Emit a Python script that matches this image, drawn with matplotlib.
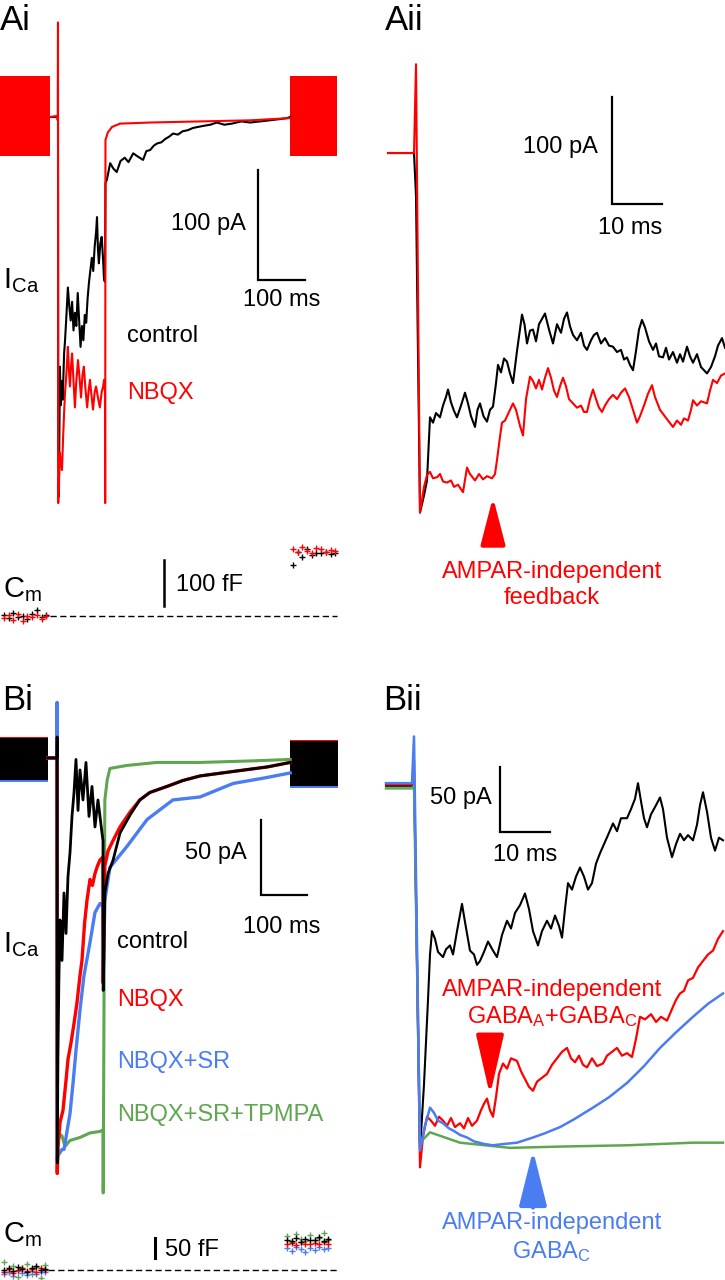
import matplotlib
matplotlib.use('Agg')
import matplotlib.pyplot as plt

plt.rcParams['font.family'] = ['Liberation Sans', 'DejaVu Sans']
plt.rcParams['mathtext.fontset'] = 'custom'
plt.rcParams['mathtext.rm'] = 'Liberation Sans'
plt.rcParams['mathtext.it'] = 'Liberation Sans:italic'

W, H = 725, 1280
RED = '#ff0000'
BLUE = '#4a7cf2'
GREEN = '#5ea64f'

# ---------------- data (time in ms, current in pA, capacitance in fF) -------
# Ai: full traces
ai_sine_t = [[-123, -17], [494, 594]]
ai_sine_hi = 37
ai_sine_lo = -35

ai_ctrl_t = [-17, 0, 0.5, 2, 4, 6, 8, 10, 13, 15, 18, 21, 24, 27, 30, 33, 36, 39, 42, 45, 48,
             51, 54, 57, 60, 63, 66, 69, 72, 75, 78, 81, 83, 85, 87, 90, 93, 96, 98, 100, 101,
             104, 111, 118, 125, 133, 142, 150, 160, 170, 181, 188, 196, 204, 211, 220, 228, 236,
             245, 255, 265, 276, 287, 298, 310, 324, 338, 354, 370, 390, 409, 430, 450, 470, 487,
             494]
ai_ctrl_i = [0, 0, -300, -345, -227, -262, -240, -257, -215, -203, -180, -155, -172, -185, -168,
             -194, -178, -190, -160, -185, -209, -190, -203, -180, -187, -165, -150, -139, -128,
             -140, -118, -105, -91, -120, -133, -115, -109, -130, -148, -150, -60, -57, -42, -47,
             -50, -40, -37, -41, -33, -36, -39, -31, -30, -26, -24, -23, -20, -18, -15, -16, -13,
             -12, -10, -9, -8, -7, -5, -7, -6, -4, -5, -4, -3, -2, -1, 0]

ai_nbqx_t = [-17, -2, -0.5, 0, 0.5, 2, 4, 6, 8.5, 11, 13, 15, 17, 19, 21, 23, 25.5, 28, 30, 33,
             36, 39, 42.6, 46, 49, 52, 55, 58, 62, 65, 68, 71, 74.5, 78, 81, 85, 89, 93, 96, 98,
             100, 100.4, 101, 106, 115, 132, 196, 302, 409, 494]
ai_nbqx_i = [0, 1, -3, 86, -351, -330, -305, -315, -321, -290, -269, -250, -239, -225, -209, -228,
             -245, -225, -215, -240, -264, -240, -221, -238, -255, -235, -227, -245, -264, -250,
             -239, -252, -266, -250, -245, -255, -264, -250, -245, -239, -250, -351, -21, -14, -9,
             -6, -5, -4, -3, -1]

cm_t_left = [-115, -105, -95, -85, -75, -65, -55, -45, -35, -25]
cm_t_right = [500, 510, 520, 530, 540, 550, 560, 570, 580, 590]
ai_cm_ctrl_left = [3, -4, 6, -2, 1, -6, 4, 12, -3, 2]
ai_cm_nbqx_left = [-5, 2, -8, 4, -10, 0, -3, 3, -6, 1]
ai_cm_ctrl_right = [110, 140, 128, 145, 132, 138, 136, 140, 135, 138]
ai_cm_nbqx_right = [145, 140, 150, 142, 138, 148, 146, 140, 144, 142]

# Aii: first 60 ms of the step
aii_ctrl_t = [-5.6, -0.4, 0, 0.8, 1.6, 2.2, 2.8, 3.4, 4.0, 4.8, 5.4, 6.0, 6.4, 7.0, 7.6, 8.2, 9.0,
              9.8, 10.4, 11.0, 11.8, 12.3, 12.8, 13.5, 14.2, 14.8, 15.4, 16.0, 16.4, 17.0, 17.6,
              18.2, 18.8, 19.4, 20.2, 21.2, 21.7, 22.2, 22.8, 23.4, 24.0, 24.6, 25.2, 25.8, 26.6,
              27.4, 28.2, 29.0, 29.6, 30.2, 30.8, 31.4, 32.2, 33.0, 33.6, 34.2, 35.0, 35.6, 36.2,
              37.0, 37.8, 38.6, 39.4, 40.2, 41.0, 41.6, 42.2, 42.8, 43.4, 44.0, 44.6, 45.2, 45.8,
              46.6, 47.4, 48.0, 48.6, 49.4, 50.0, 50.6, 51.4, 52.2, 52.8, 53.4, 54.2, 54.8, 55.4,
              56.2, 57.0, 57.6, 58.2, 59.0, 59.8, 60.4, 61.2, 61.8]
aii_ctrl_i = [0, 0, -40, -336, -320, -306, -247, -252, -243, -247, -236, -228, -221, -233, -241,
              -247, -236, -224, -234, -246, -256, -240, -234, -246, -251, -240, -237, -215, -198,
              -205, -192, -195, -206, -215, -185, -151, -160, -178, -166, -165, -176, -160, -155,
              -150, -165, -178, -160, -168, -155, -149, -162, -170, -175, -168, -180, -184, -175,
              -170, -168, -178, -173, -180, -181, -186, -184, -193, -191, -198, -203, -185, -165,
              -156, -163, -176, -184, -178, -190, -191, -182, -193, -186, -196, -188, -195, -181,
              -190, -196, -188, -200, -203, -206, -200, -190, -180, -173, -182]
aii_nbqx_t = [-5.6, -0.4, 0, 0.8, 1.6, 2.2, 2.8, 3.4, 4.2, 4.8, 5.4, 6.2, 7.0, 7.6, 8.4, 9.4, 10.2,
              10.8, 11.8, 12.6, 13.4, 14.2, 15.2, 15.8, 16.2, 16.8, 17.2, 17.8, 18.6, 19.4, 20.0,
              20.8, 21.4, 22.0, 22.8, 23.4, 24.0, 24.6, 25.2, 25.8, 26.4, 27.0, 27.6, 28.2, 28.8,
              29.4, 30.0, 30.6, 31.4, 32.2, 33.0, 33.6, 34.2, 34.8, 35.4, 36.0, 36.6, 37.2, 37.8,
              38.6, 39.4, 40.2, 41.0, 41.8, 42.6, 43.4, 44.2, 44.8, 45.6, 46.4, 47.2, 47.8, 48.8,
              49.6, 50.4, 51.4, 52.2, 53.0, 53.6, 54.4, 55.0, 55.4, 56.2, 57.0, 58.2, 58.8, 59.4,
              60.2, 61.0, 61.8]
aii_nbqx_i = [0, 0, 83, -336, -312, -301, -298, -304, -303, -300, -307, -308, -306, -312, -310,
              -317, -294, -300, -306, -300, -305, -302, -304, -300, -287, -265, -252, -250, -242,
              -234, -240, -255, -264, -230, -209, -213, -220, -212, -221, -210, -201, -210, -222,
              -228, -218, -210, -218, -230, -234, -238, -236, -242, -242, -230, -221, -230, -238,
              -242, -236, -230, -226, -230, -224, -220, -228, -240, -252, -246, -236, -225, -217,
              -228, -240, -245, -250, -256, -250, -254, -248, -250, -240, -231, -236, -232, -234,
              -222, -212, -215, -208, -206]

# Bi: full traces
bi_sine_t = [[-124, -20], [507, 611]]
bi_sine_red = [(14, -15), (12, -19)]
bi_sine_blue = [(13, -16), (11, -20)]
bi_sine_black = [(13, -15), (11, -19)]

bi_ctrl_t = [-20, 0, 0.3, 0.6, 2, 4, 6.5, 10.9, 15.2, 19.6, 23.9, 28.3, 32.6, 37.0, 41.3, 45.7,
             50.0, 56.5, 63.0, 69.6, 76.1, 82.6, 89.1, 97.8, 100, 100.5, 104, 111, 122, 137, 159,
             180, 202, 239, 274, 311, 383, 457, 507]
bi_ctrl_i = [0, 0, 14, -270, -200, -150, -108, -135, -90, -117, -79, -63, -39, -23, -1, -35, -8,
             -28, -3, -39, -19, -46, -28, -50, -55, -155, -90, -77, -68, -50, -38, -28, -23, -19,
             -15, -12, -9, -6, -3]
bi_nbqx_t = [-20, 0, 0.6, 2.2, 6.5, 13.0, 19.6, 23.9, 30.4, 37.0, 43.5, 50.0, 54.3, 60, 65.2, 71.7,
             77, 82.6, 88, 93.5, 100, 100.5, 104, 111, 122, 137, 159, 180, 202, 239, 274, 311,
             383, 457, 507]
bi_nbqx_i = [0, 0, -277, -260, -243, -235, -215, -201, -190, -177, -163, -145, -135, -110, -95, -81,
             -85, -77, -72, -68, -66, -150, -72, -62, -55, -46, -36, -28, -23, -19, -15, -12, -9,
             -6, -3]
bi_sr_t = [-20, 0, 0.2, 0.6, 2.2, 10.9, 15.2, 28.3, 34.8, 41.3, 50.0, 58.7, 71.7, 82.6, 93.5, 100,
           100.5, 104, 115, 152, 196, 252, 311, 383, 457, 507]
bi_sr_i = [0, 0, 37, -268, -265, -261, -261, -237, -217, -195, -168, -145, -123, -103, -97, -99,
           -150, -95, -73, -59, -41, -28, -26, -17, -13, -10]
bi_tpmpa_t = [-20, 0, 0.6, 2, 6.5, 10.9, 17.4, 28.3, 50, 71.7, 93.5, 100, 100.5, 104, 109, 115,
              152, 217, 311, 420, 507]
bi_tpmpa_i = [0, 0, -275, -255, -251, -252, -259, -255, -253, -250, -249, -248, -290, -28, -15,
              -7, -5, -3, -3, -2, -1]

bi_cm_ctrl_left = [0, 5, -3, 8, 2, -5, 4, 10, 0, 3]
bi_cm_nbqx_left = [-5, 2, -8, 0, 5, -3, 2, -6, 4, 0]
bi_cm_sr_left = [-10, -5, -15, -3, -8, -12, -2, -10, -6, -4]
bi_cm_tpmpa_left = [20, -5, 10, -18, 5, 15, -10, 8, -20, 12]
bi_cm_ctrl_right = [75, 72, 80, 70, 78, 76, 74, 82, 72, 78]
bi_cm_nbqx_right = [65, 68, 62, 70, 66, 64, 68, 66, 70, 65]
bi_cm_sr_right = [55, 48, 58, 52, 45, 55, 50, 58, 52, 55]
bi_cm_tpmpa_right = [85, 70, 90, 78, 72, 88, 75, 80, 92, 76]

# Bii: first 60 ms of the step
bii_ctrl_t = [-5.6, -0.4, 0, 1.2, 2.0, 2.8, 3.2, 3.6, 4.2, 4.8, 5.8, 6.4, 7.2, 7.8, 8.6, 9.6, 10.2,
              11.2, 12.0, 12.6, 13.2, 14.0, 14.8, 15.8, 16.6, 17.6, 18.6, 19.4, 20.2, 21.2, 22.2,
              23.0, 23.8, 24.8, 25.6, 26.6, 27.4, 28.2, 29.0, 29.6, 30.2, 30.8, 31.6, 32.4, 33.2,
              34.0, 34.8, 35.6, 36.4, 37.2, 38.0, 38.8, 39.8, 40.6, 41.4, 42.6, 43.4, 44.2, 44.8,
              45.4, 46.0, 46.6, 47.4, 48.4, 49.2, 49.8, 50.6, 51.6, 52.4, 53.2, 54.0, 54.8, 55.8,
              56.6, 57.2, 57.8, 58.6, 59.4, 60.2, 61.0, 61.8]
bii_ctrl_i = [0, 0, 10, -281, -230, -165, -130, -112, -118, -128, -132, -126, -123, -130, -112, -91,
              -105, -127, -130, -138, -135, -128, -120, -127, -132, -115, -104, -110, -98, -92, -83,
              -95, -112, -123, -112, -104, -110, -100, -108, -117, -95, -75, -80, -70, -63, -70,
              -80, -75, -60, -52, -45, -38, -29, -35, -25, -25, -18, -10, 2, -12, -25, -32, -22,
              -15, -9, -18, -40, -55, -45, -37, -42, -38, -42, -30, -15, -5, -20, -40, -50, -40,
              -42]
bii_nbqx_t = [-5.6, -0.4, 0, 1.2, 1.8, 2.6, 3.4, 4.2, 5.0, 5.8, 6.6, 7.4, 8.2, 9.2, 10.0, 10.8,
              11.6, 12.6, 13.4, 14.0, 14.6, 15.2, 15.8, 16.4, 17.0, 17.8, 18.6, 19.4, 20.6, 21.4,
              22.2, 23.0, 23.8, 24.6, 25.6, 26.6, 27.6, 28.6, 29.6, 30.6, 31.4, 32.2, 33.0, 33.8,
              34.6, 35.6, 36.6, 37.8, 38.6, 39.6, 40.6, 41.6, 42.6, 43.6, 44.4, 45.2, 46.2, 47.4,
              48.4, 49.4, 50.6, 51.6, 52.4, 53.2, 54.0, 54.8, 55.8, 56.8, 57.8, 58.8, 59.8, 60.8,
              61.8]
bii_nbqx_i = [1, 1, 20, -294, -270, -255, -258, -262, -255, -258, -262, -256, -263, -260, -264,
              -256, -262, -258, -250, -245, -241, -250, -255, -240, -222, -214, -218, -210, -212,
              -220, -226, -232, -235, -228, -225, -222, -215, -210, -205, -202, -210, -213, -208,
              -215, -217, -210, -216, -214, -208, -205, -202, -208, -206, -209, -195, -178, -180,
              -176, -182, -178, -181, -172, -165, -160, -158, -150, -148, -140, -135, -130, -127,
              -118, -112]
bii_sr_t = [-5.6, -0.4, 0, 1.2, 2.2, 3.2, 4.0, 4.8, 5.8, 7.0, 8.0, 9.2, 10.6, 12.0, 14.0, 15.8,
            18.0, 20.6, 22.2, 23.8, 26.0, 29.2, 32.0, 35.8, 39.0, 42.6, 46.0, 49.2, 52.4, 55.8,
            58.8, 61.8]
bii_sr_i = [2, 2, 38, -281, -262, -248, -252, -258, -260, -264, -266, -269, -271, -274, -276, -277,
            -276, -275, -273, -271, -268, -263, -257, -248, -240, -229, -216, -202, -190, -178,
            -168, -160]
bii_tpmpa_t = [-5.6, -0.4, 0, 1.2, 3.2, 9.2, 19.2, 29.2, 42.6, 55.8, 61.8]
bii_tpmpa_i = [-2, -2, 0, -275, -267, -275, -279, -278, -277, -275, -275]

# ---------------------------------------------------------------------------
fig = plt.figure(figsize=(W / 100, H / 100), dpi=100)


def box(x0, y0, x1, y1, xlim, ylim):
    ax = fig.add_axes([x0 / W, 1 - y1 / H, (x1 - x0) / W, (y1 - y0) / H])
    ax.set_xlim(*xlim)
    ax.set_ylim(*ylim)
    ax.axis('off')
    return ax


def label(x, y, s, **kw):
    kw.setdefault('fontsize', 17)
    fig.text(x / W, 1 - y / H, s, **kw)


def scalebar(ax, x, y, dx, dy):
    ax.plot([x, x, x + dx], [y + dy, y, y], color='black', lw=1.6, solid_joinstyle='miter')


def cm_points(ax, t, vals, color):
    ax.plot(t, vals, ls='none', marker='+', ms=4, mew=1, color=color)


def arrow(ax, tip, base, color, hl, hw):
    ax.annotate('', xy=tip, xytext=base,
                arrowprops=dict(arrowstyle='-|>,head_length=%g,head_width=%g' % (hl, hw),
                                mutation_scale=10, lw=3, color=color, shrinkA=0, shrinkB=0))


# ---- Ai ----
ax = box(0, 0, 360, 520, (-123.4, 642.6), (-366.4, 106.4))
for t in ai_sine_t:
    ax.fill_between(t, ai_sine_lo, ai_sine_hi, color=RED, lw=0)
ax.plot(ai_ctrl_t, ai_ctrl_i, color='black', lw=1.5)
ax.plot(ai_nbqx_t, ai_nbqx_i, color=RED, lw=1.5)
scalebar(ax, 425.5, -148, 100, 100)

ax = box(0, 520, 360, 650, (-123.4, 642.6), (-73.9, 208.7))
ax.plot([-17, 594], [0, 0], color='black', lw=1, dashes=(4.5, 2.5))
cm_points(ax, cm_t_left, ai_cm_ctrl_left, 'black')
cm_points(ax, cm_t_left, ai_cm_nbqx_left, RED)
cm_points(ax, cm_t_right, ai_cm_ctrl_right, 'black')
cm_points(ax, cm_t_right, ai_cm_nbqx_right, RED)
ax.plot([225.5, 225.5], [21.7, 121.7], color='black', lw=1.8)

# ---- Aii ----
ax = box(360, 0, 725, 660, (-11.2, 61.8), (-473.8, 143.0))
ax.plot(aii_ctrl_t, aii_ctrl_i, color='black', lw=1.5)
ax.plot(aii_nbqx_t, aii_nbqx_i, color=RED, lw=1.5)
scalebar(ax, 39.2, -47.7, 10, 100)
arrow(ax, (15.4, -321.5), (15.4, -366), RED, 2.9, 0.75)

# ---- Bi ----
ax = box(0, 660, 360, 1200, (-123.9, 658.7), (-294.7, 65.3))
for t, r, b, k in zip(bi_sine_t, bi_sine_red, bi_sine_blue, bi_sine_black):
    ax.fill_between(t, r[1], r[0], color=RED, lw=0)
    ax.fill_between(t, b[1], b[0], color=BLUE, lw=0)
    ax.fill_between(t, k[1], k[0], color='black', lw=0)
ax.plot(bi_tpmpa_t, bi_tpmpa_i, color=GREEN, lw=2.2)
ax.plot(bi_sr_t, bi_sr_i, color=BLUE, lw=2.4)
ax.plot(bi_nbqx_t, bi_nbqx_i, color=RED, lw=2.4)
ax.plot(bi_ctrl_t, bi_ctrl_i, color='black', lw=2)
scalebar(ax, 443.5, -91.3, 100, 50)

ax = box(0, 1200, 360, 1280, (-123.9, 658.7), (-25, 175))
ax.plot([-20, 611], [0, 0], color='black', lw=1, dashes=(4.5, 2.5))
for col, left, right in [(GREEN, bi_cm_tpmpa_left, bi_cm_tpmpa_right),
                         (BLUE, bi_cm_sr_left, bi_cm_sr_right),
                         (RED, bi_cm_nbqx_left, bi_cm_nbqx_right),
                         ('black', bi_cm_ctrl_left, bi_cm_ctrl_right)]:
    cm_points(ax, cm_t_left, left, col)
    cm_points(ax, cm_t_right, right, col)
ax.plot([213, 213], [30, 80], color='black', lw=2.2)

# ---- Bii ----
ax = box(360, 660, 725, 1280, (-10.8, 62.2), (-380.8, 96.9))
ax.plot(bii_ctrl_t, bii_ctrl_i, color='black', lw=1.5)
ax.plot(bii_nbqx_t, bii_nbqx_i, color=RED, lw=1.6)
ax.plot(bii_tpmpa_t, bii_tpmpa_i, color=GREEN, lw=1.8)
ax.plot(bii_sr_t, bii_sr_i, color=BLUE, lw=1.8)
scalebar(ax, 17.2, -35.4, 10, 50)
arrow(ax, (15.2, -238.5), (15.2, -192), RED, 3.7, 0.85)
arrow(ax, (23.8, -280.8), (23.8, -325), BLUE, 3.4, 0.85)

# ---- text ----
label(0, 30, 'Ai', fontsize=25, va='baseline')
label(385, 30, 'Aii', fontsize=25, va='baseline')
label(2, 710, 'Bi', fontsize=25, va='baseline')
label(383, 710, 'Bii', fontsize=25, va='baseline')

label(246, 224, '100 pA', ha='right', va='center')
label(282, 300, '100 ms', ha='center', va='center')
label(3, 288, r'$\mathregular{I_{Ca}}$', fontsize=21, va='baseline')
label(127, 336, 'control', va='center')
label(127, 393, 'NBQX', va='center', color=RED)
label(3, 597, r'$\mathregular{C_m}$', fontsize=21, va='baseline')
label(176, 585, '100 fF', va='center')

label(598, 147, '100 pA', ha='right', va='center')
label(630, 228, '10 ms', ha='center', va='center')
label(552, 572, 'AMPAR-independent', ha='center', va='center', color=RED)
label(552, 598, 'feedback', ha='center', va='center', color=RED)

label(247, 853, '50 pA', ha='right', va='center')
label(282, 927, '100 ms', ha='center', va='center')
label(3, 952, r'$\mathregular{I_{Ca}}$', fontsize=21, va='baseline')
label(117, 942, 'control', va='center')
label(117, 1000, 'NBQX', va='center', color=RED)
label(117, 1062, 'NBQX+SR', va='center', color=BLUE)
label(117, 1115, 'NBQX+SR+TPMPA', va='center', color=GREEN)
label(3, 1242, r'$\mathregular{C_m}$', fontsize=21, va='baseline')
label(165, 1250, '50 fF', va='center')

label(492, 798, '50 pA', ha='right', va='center')
label(525, 855, '10 ms', ha='center', va='center')
label(552, 990, 'AMPAR-independent', ha='center', va='center', color=RED)
label(552, 1017, r'$\mathregular{GABA_A}$+$\mathregular{GABA_C}$', ha='center', va='center', color=RED)
label(552, 1223, 'AMPAR-independent', ha='center', va='center', color=BLUE)
label(552, 1252, r'$\mathregular{GABA_C}$', ha='center', va='center', color=BLUE)

fig.savefig('out.png', dpi=100)
